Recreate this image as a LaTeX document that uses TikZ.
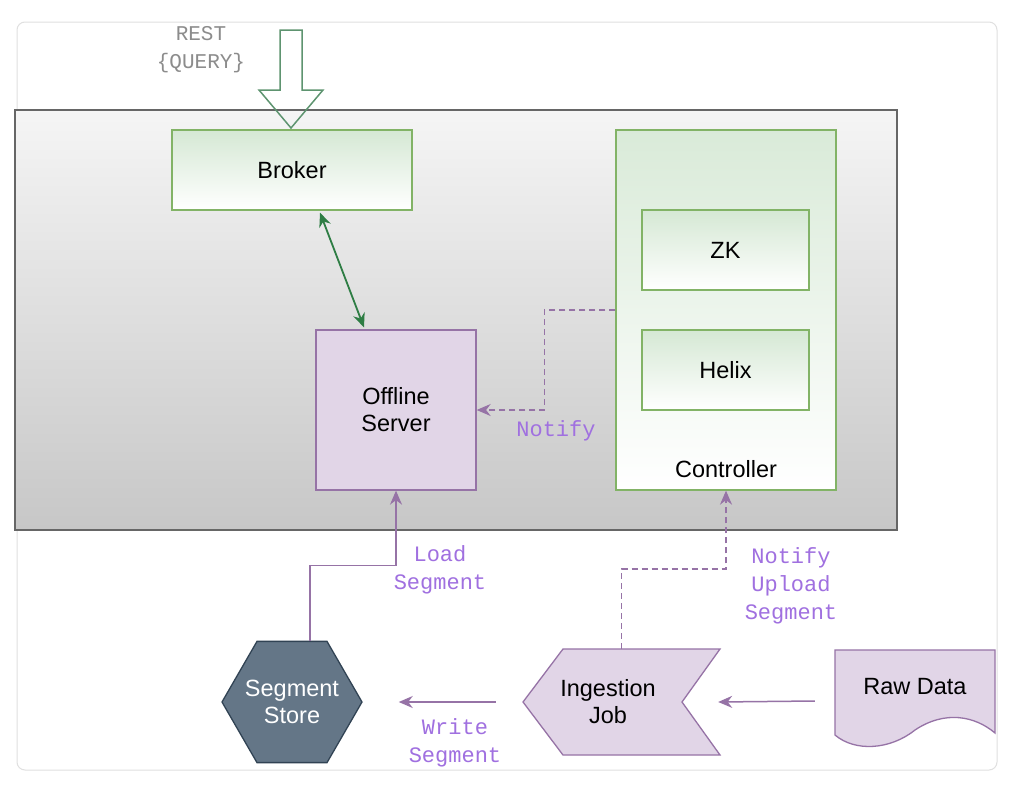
\documentclass[tikz,border=0pt]{standalone}
\usepackage{fontspec}
\setmainfont{Liberation Sans}
\newfontfamily\courfont{Liberation Mono}
\usetikzlibrary{shapes.geometric,arrows.meta,calc}
\definecolor{grnline}{HTML}{82B366}
\definecolor{grnfill}{HTML}{D5E8D4}
\definecolor{purline}{HTML}{9673A6}
\definecolor{purfill}{HTML}{E1D5E7}
\definecolor{slatefill}{HTML}{647687}
\definecolor{slateline}{HTML}{314354}
\definecolor{lbl}{HTML}{A070E0}
\definecolor{darkgrn}{HTML}{2E7D44}
\definecolor{arrgrn}{HTML}{5E9470}
\tikzset{
  txt/.style={font=\fontsize{23.5}{27}\selectfont, align=center},
  lab/.style={font=\courfont\fontsize{22}{28}\selectfont, text=lbl, align=center, inner sep=0pt},
  greenbox/.style={draw=grnline, line width=1.3pt, top color=grnfill, bottom color=white, txt},
  purbox/.style={draw=purline, line width=1.3pt, fill=purfill, txt},
  purarrow/.style={draw=purline, line width=1.5pt, -{Stealth[length=14pt,width=12pt]}},
  purdash/.style={purarrow, dash pattern=on 6pt off 4pt},
}
\begin{document}
\begin{tikzpicture}[x=1pt,y=-1pt]
\useasboundingbox (0,0) rectangle (1026,806);
\fill[white] (0,0) rectangle (1026,806);
% card
\draw[draw=black!12, line width=1pt, rounded corners=8pt, fill=white] (17,22) rectangle (997,770);
% gray container
\shade[top color=black!4, bottom color=black!22] (15,110) rectangle (897,530);
\draw[draw=black!60, line width=1.5pt] (15,110) rectangle (897,530);

% nodes
\node[greenbox, minimum width=240pt, minimum height=80pt] (broker) at (292,170) {Broker};
\node[greenbox, minimum width=220pt, minimum height=360pt, top color=grnfill!90, bottom color=white] (ctrl) at (726,310) {};
\node[txt, anchor=center] (ctrllbl) at (726,469) {Controller};
\node[greenbox, minimum width=167pt, minimum height=80pt] (zk) at (725.5,250) {ZK};
\node[greenbox, minimum width=167pt, minimum height=80pt] (helix) at (725.5,370) {Helix};
\node[purbox, minimum width=160pt, minimum height=160pt] (off) at (396,410) {Offline\\Server};
\node[regular polygon, regular polygon sides=6, minimum size=140pt, inner sep=0pt,
      draw=slateline, line width=1.3pt, fill=slatefill] (seg) at (292,702) {};
\node[txt, text=white] (segtxt) at (292,702) {Segment\\Store};
% ingestion job (step shape)
\node[minimum width=197pt, minimum height=106pt, inner sep=0pt] (ing) at (621.5,702) {};
\draw[draw=purline, line width=1.3pt, fill=purfill]
  (523,702) -- (563,649) -- (720,649) -- (682,702) -- (720,755) -- (563,755) -- cycle;
\node[txt] (ingtxt) at (608,702) {Ingestion\\Job};
% raw data (document shape)
\node[minimum width=160pt, minimum height=102pt, inner sep=0pt] (raw) at (915,701) {};
\draw[draw=purline, line width=1.3pt, fill=purfill]
  (835,650) -- (995,650) -- (995,733)
  .. controls (975,716) and (945,710) .. (915,730)
  .. controls (890,750) and (855,752) .. (835,735) -- cycle;
\node[txt] (rawtxt) at (915,687) {Raw Data};

% REST query hollow arrow
\node[font=\courfont\fontsize{21}{28}\selectfont, text=black!45, align=center] (rest) at (201,50) {REST\\\{QUERY\}};
\draw[draw=arrgrn, line width=1.5pt, line join=miter]
  (280,30) -- (302,30) -- (302,90) -- (323,90) -- (291,128) -- (259,90) -- (280,90) -- cycle;

% connectors
\draw[draw=darkgrn, line width=1.8pt, {Stealth[length=14pt,width=12pt]}-{Stealth[length=14pt,width=12pt]}]
  ($(broker.south)+(28,2)$) -- ($(off.north)+(-32,-2)$);
\draw[purdash] (ctrl.west) -- ++(-71,0) |- (off.east);
\node[lab] (notifylbl) at (556,431) {Notify};
\draw[purarrow] ($(seg.north)+(18,0)$) -- ++(0,-75) -| (off.south);
\node[lab] (loadlbl) at (440,570) {Load\\Segment};
\draw[purdash] (ing.north) -- ++(0,-80) -| (ctrl.south);
\node[lab] (uploadlbl) at (791,586) {Notify\\Upload\\Segment};
\draw[purarrow] ($(raw.west)+(-20,0)$) -- ($(ing.east)+(-2,0)$);
\draw[purarrow] ($(ing.west)+(-27,0)$) -- ($(seg.east)+(36,0)$);
\node[lab] (writelbl) at (455,743) {Write\\Segment};
\end{tikzpicture}
\end{document}
